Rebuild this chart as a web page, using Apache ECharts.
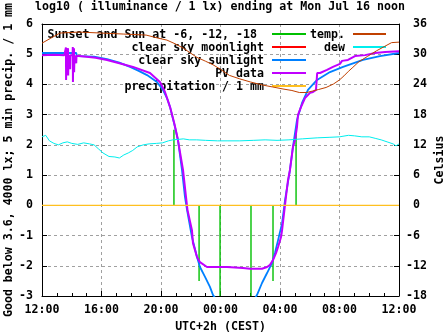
<!DOCTYPE html>
<html><head><meta charset="utf-8">
<script src="https://cdn.jsdelivr.net/npm/echarts@6/dist/echarts.min.js"></script>
<style>html,body{margin:0;padding:0;background:#fff}#c{width:447px;height:335px}</style>
</head><body><div id="c"></div>
<script>
// x values are hours after Sun 12:00 (0..24)
const hourTickLabels = ['12:00','16:00','20:00','00:00','04:00','08:00','12:00'];

// temperature, Celsius (right axis)
const tempC = [[0,32.2],[0.6,33.2],[1.2,34.2],[2.5,34.4],[4.0,34.2],[5.5,34.0],[7.0,33.8],[7.8,33.2],[8.4,32.8],[9.0,32.0],[9.5,31.2],[10.0,30.2],[10.4,29.4],[11.0,28.6],[11.5,27.9],[12.0,27.0],[12.6,25.8],[13.3,25.1],[14.0,24.5],[14.8,23.9],[15.5,23.5],[16.2,23.1],[16.8,22.8],[17.3,22.4],[17.8,22.4],[18.2,22.7],[18.6,23.0],[19.1,23.4],[19.6,24.1],[20.0,24.9],[20.3,25.7],[20.6,26.6],[20.9,27.4],[21.3,28.5],[21.9,29.6],[22.5,30.7],[23.0,31.5],[23.5,32.3],[24.0,32.4]];

// dew point, Celsius (right axis)
const dewC = [[0,13.6],[0.25,13.9],[0.5,12.8],[0.8,12.3],[1.1,12.0],[1.4,12.4],[1.7,12.6],[2.0,12.3],[2.4,12.1],[2.8,12.4],[3.2,12.2],[3.5,12.0],[3.8,11.2],[4.1,10.4],[4.5,9.7],[4.9,9.6],[5.2,9.4],[5.5,10.0],[5.8,10.4],[6.1,10.9],[6.4,11.6],[6.8,12.0],[7.2,12.2],[7.7,12.3],[8.1,12.4],[8.5,12.8],[8.8,13.0],[9.2,13.1],[9.5,13.2],[9.9,13.0],[10.4,13.0],[11.0,12.9],[11.8,12.8],[12.5,12.8],[13.3,12.8],[14.2,12.9],[15.0,13.0],[15.8,12.9],[16.6,13.0],[17.5,13.2],[18.5,13.4],[19.3,13.5],[20.0,13.6],[20.6,13.9],[21.0,13.8],[21.5,13.6],[22.0,13.6],[22.4,13.3],[22.8,13.0],[23.2,12.6],[23.6,12.2],[23.8,11.8],[24.0,12.2]];

// clear sky sunlight, log10 lx (left axis)
const sunlight = [[0,5.04],[2.3,5.04],[2.35,4.94],[3.5,4.92],[4.37,4.84],[5.2,4.72],[5.92,4.58],[6.5,4.45],[7.06,4.31],[7.73,4.08],[8.13,3.82],[8.4,3.55],[8.61,3.25],[8.94,2.59],[9.14,2.16],[9.41,1.17],[9.61,0.28],[9.75,-0.15],[10.08,-1.05],[10.42,-1.71],[10.62,-2.04],[10.96,-2.37],[11.29,-2.70],[11.5,-2.97],[12.0,-3.3],[13.0,-3.5],[14.0,-3.3],[14.45,-2.97],[14.79,-2.57],[15.13,-2.24],[15.46,-1.91],[15.66,-1.58],[15.87,-1.15],[16.14,-0.59],[16.34,0.18],[16.67,1.17],[16.87,1.93],[17.14,2.82],[17.48,3.39],[17.88,3.82],[18.49,4.15],[19.36,4.41],[20.24,4.58],[21.58,4.81],[22.72,4.94],[24.0,5.04]];

// PV data, log10 lx (left axis)
const pvData = [[0,4.97],[0.8,4.98],[1.5,4.97],[1.60,4.97],[1.61,5.22],[1.62,4.15],[1.64,4.97],[1.74,4.97],[1.75,5.2],[1.76,4.3],[1.78,4.97],[1.87,4.97],[1.88,4.85],[1.89,4.5],[1.91,4.97],[2.06,4.97],[2.07,5.24],[2.08,4.08],[2.10,4.97],[2.14,4.97],[2.15,5.2],[2.16,4.4],[2.18,4.97],[2.28,4.97],[2.29,5.0],[2.30,4.7],[2.32,4.95],[3.0,4.92],[3.6,4.88],[4.37,4.81],[5.2,4.70],[6.12,4.58],[7.26,4.38],[7.93,4.08],[8.27,3.75],[8.61,3.25],[8.9,2.7],[9.14,2.16],[9.48,1.17],[9.68,0.28],[9.78,-0.15],[10.08,-0.82],[10.15,-1.25],[10.42,-1.71],[10.62,-1.88],[11.09,-2.04],[12.44,-2.04],[13.51,-2.07],[13.98,-2.10],[14.79,-2.10],[15.13,-2.04],[15.33,-1.97],[15.53,-1.81],[15.73,-1.58],[15.87,-1.38],[16.07,-1.05],[16.14,-0.82],[16.40,0.28],[16.54,0.84],[16.67,1.17],[16.87,1.93],[17.01,2.16],[17.14,2.59],[17.21,2.99],[17.41,3.25],[17.68,3.55],[18.02,3.72],[18.22,3.75],[18.42,3.82],[18.49,3.82],[18.50,4.38],[18.69,4.38],[19.16,4.48],[19.56,4.58],[20.03,4.68],[20.17,4.78],[20.57,4.81],[21.04,4.94],[21.72,4.97],[22.39,5.04],[23.06,5.07],[24.0,5.10]];

// precipitation / 1 mm (left axis)
const precip = [[0,0],[6,0],[12,0],[18,0],[24,0]];

// sunset / twilight / sunrise impulses: [hour, height]
const sunEvents = [[8.87,2.5],[10.56,-2.5],[11.97,-3],[14.05,-3],[15.53,-2.5],[17.08,2.5]];

const legendCol1 = ['Sunset and Sun at -6, -12, -18 ','clear sky moonlight','clear sky sunlight','PV data','precipitation / 1 mm'];
const legendCol2 = ['temp.','dew'];

const C = {green:'#00c000', red:'#ff0000', blue:'#0080ff', purple:'#c000ff', gold:'#ffc020', temp:'#c04000', dew:'#00eeee'};
const FONT = '"DejaVu Sans Mono","Liberation Mono",monospace';
const FS = 11.6;

const chart = echarts.init(document.getElementById('c'), null, {renderer:'canvas'});

const grid = {left:42, right:48, top:24, bottom:39, outerBoundsMode:'none', containLabel:false};
const splitLineStyle = {show:true, showMinLine:false, showMaxLine:false, lineStyle:{color:'#a0a0a0', type:[3,3], width:1}};
const labelStyle = {color:'#000', fontFamily:FONT, fontWeight:'bold', fontSize:FS};

const series = [];
sunEvents.forEach((e,i)=>{
  series.push({type:'line', xAxisIndex:0, yAxisIndex:0, symbol:'none', silent:true,
    data:[[e[0],0],[e[0],e[1]]], lineStyle:{color:C.green, width:1.4}, z:3});
});
series.push({name:'clear sky sunlight', type:'line', yAxisIndex:0, symbol:'none', data:sunlight, lineStyle:{color:C.blue, width:1.8}, z:4});
series.push({name:'PV data', type:'line', yAxisIndex:0, symbol:'none', data:pvData, lineStyle:{color:C.purple, width:2}, z:5});
series.push({name:'precipitation / 1 mm', type:'line', yAxisIndex:0, symbol:'none', data:precip, lineStyle:{color:C.gold, width:1.2}, z:6});
series.push({name:'temp.', type:'line', yAxisIndex:1, symbol:'none', data:tempC, lineStyle:{color:C.temp, width:1}, z:7});
series.push({name:'dew', type:'line', yAxisIndex:1, symbol:'none', data:dewC, lineStyle:{color:C.dew, width:1}, z:7});

const graphics = [];
const rowY = [35, 48, 61, 74, 87];
const col1Colors = [C.green, C.red, C.blue, C.purple, C.gold];
const col2Colors = [C.temp, C.dew];
legendCol1.forEach((t,i)=>{
  graphics.push({type:'text', x:264, y:rowY[i], z:1, style:{text:t, fill:'#000', font:'bold '+FS+'px '+FONT, textAlign:'right', textVerticalAlign:'middle'}});
  graphics.push({type:'line', z:1, shape:{x1:272, y1:rowY[i]-1, x2:306, y2:rowY[i]-1}, style:{stroke:col1Colors[i], lineWidth:2}});
});
legendCol2.forEach((t,i)=>{
  graphics.push({type:'text', x:345, y:rowY[i], z:1, style:{text:t, fill:'#000', font:'bold '+FS+'px '+FONT, textAlign:'right', textVerticalAlign:'middle'}});
  graphics.push({type:'line', z:1, shape:{x1:353, y1:rowY[i]-1, x2:386, y2:rowY[i]-1}, style:{stroke:col2Colors[i], lineWidth:2}});
});

chart.setOption({
  animation:false,
  backgroundColor:'#fff',
  title:{text:'log10 ( illuminance / 1 lx) ending at Mon Jul 16 noon', left:215, top:-4, textAlign:'center',
    textStyle:{color:'#000', fontFamily:FONT, fontWeight:'bold', fontSize:FS}},
  grid:grid,
  legend:{show:false},
  xAxis:[{
    type:'value', min:0, max:24, interval:4, position:'bottom',
    name:'UTC+2h (CEST)', nameLocation:'middle', nameGap:25, nameMoveOverlap:false, nameTextStyle:labelStyle,
    axisLine:{show:true, onZero:false, lineStyle:{color:'#000', width:1}},
    axisTick:{show:true, inside:true, length:5, lineStyle:{color:'#000'}},
    minorTick:{show:true, splitNumber:4, length:3, lineStyle:{color:'#000'}},
    axisLabel:Object.assign({margin:8, formatter:v=>hourTickLabels[Math.round(v/4)]}, labelStyle),
    splitLine:splitLineStyle
  },{
    type:'value', min:0, max:24, interval:4, position:'top',
    axisLine:{show:true, onZero:false, lineStyle:{color:'#000', width:1}},
    axisTick:{show:false}, axisLabel:{show:false}, splitLine:{show:false}
  }],
  yAxis:[{
    type:'value', min:-3, max:6, interval:1, position:'left',
    name:'Good below 3.6, 4000 lx; 5 min precip. / 1 mm', nameLocation:'middle', nameGap:27, nameMoveOverlap:false, nameRotate:90, nameTextStyle:labelStyle,
    axisLine:{show:true, onZero:false, lineStyle:{color:'#000', width:1}},
    axisTick:{show:true, inside:true, length:5, lineStyle:{color:'#000'}},
    axisLabel:Object.assign({margin:9}, labelStyle),
    splitLine:splitLineStyle
  },{
    type:'value', min:-18, max:36, interval:6, position:'right',
    name:'Celsius', nameLocation:'middle', nameGap:35, nameMoveOverlap:false, nameRotate:90, nameTextStyle:labelStyle,
    axisLine:{show:true, onZero:false, lineStyle:{color:'#000', width:1}},
    axisTick:{show:true, inside:true, length:5, lineStyle:{color:'#000'}},
    axisLabel:Object.assign({margin:7, align:'left', formatter:v=>(v<0?'':' ')+v}, labelStyle),
    splitLine:{show:false}
  }],
  graphic:graphics,
  series:series
});
</script></body></html>
